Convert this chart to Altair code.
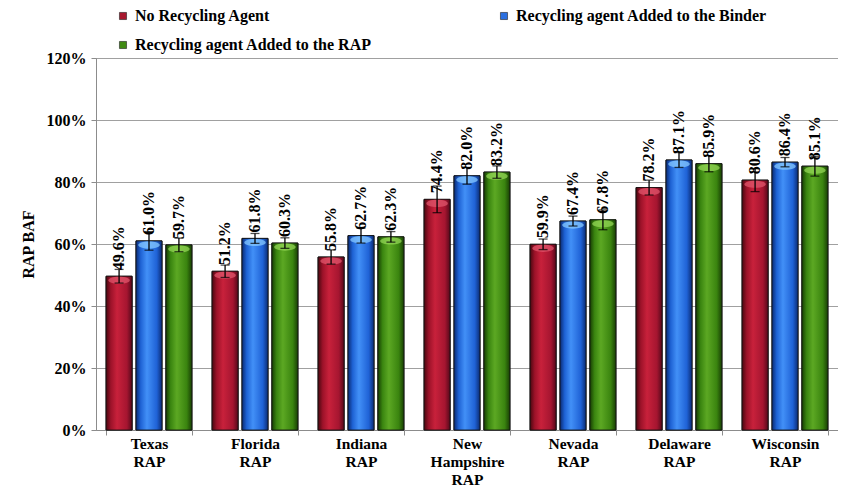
import altair as alt
import pandas as pd

groups = ["Texas RAP", "Florida RAP", "Indiana RAP", "New Hampshire RAP",
          "Nevada RAP", "Delaware RAP", "Wisconsin RAP"]
series = ["No Recycling Agent", "Recycling agent Added to the Binder",
          "Recycling agent Added to the RAP"]

no_agent = [49.6, 51.2, 55.8, 74.4, 59.9, 78.2, 80.6]
binder = [61.0, 61.8, 62.7, 82.0, 67.4, 87.1, 86.4]
rap_added = [59.7, 60.3, 62.3, 83.2, 67.8, 85.9, 85.1]

err_no = [2.2, 2.0, 2.3, 4.3, 1.7, 2.4, 3.7]
err_binder = [3.0, 1.6, 2.4, 2.7, 1.6, 2.4, 1.5]
err_rap = [2.2, 1.7, 1.7, 2.0, 3.2, 2.6, 3.2]

y_ticks = [0, 20, 40, 60, 80, 100, 120]

colors = ["#A8182E", "#2A6FE0", "#3F8A12"]
top_colors = ["#e0566c", "#86c8ff", "#93d655"]
grad_stops = [
    ["#4a0810", "#9c1229", "#c8213b", "#a51530", "#55091a"],
    ["#0a2a72", "#1e62d4", "#4290f7", "#1f62d6", "#0b2c74"],
    ["#173d03", "#3a8510", "#5ca823", "#3a840f", "#193f04"],
]

rows = []
for s, vals, errs in zip(series, [no_agent, binder, rap_added], [err_no, err_binder, err_rap]):
    for g, v, e in zip(groups, vals, errs):
        rows.append({"group": g, "series": s, "value": v, "lo": v - e, "hi": v + e,
                     "label": f"{v:.1f}%"})
df = pd.DataFrame(rows)

FONT = "Liberation Serif"

x_scale = alt.Scale(domain=groups, paddingInner=0.19, paddingOuter=0.095)
x_axis = alt.Axis(title=None, labelExpr="split(datum.label, ' ')", labelAngle=0,
                  tickBand="extent", grid=False, labelFont=FONT, labelFontWeight="bold",
                  labelFontSize=15.5, labelColor="black", labelLineHeight=18,
                  labelPadding=1, tickSize=5, labelBaseline="top")
xo = alt.XOffset("series:N", scale=alt.Scale(domain=series, paddingInner=0.13, paddingOuter=0))
y_scale = alt.Scale(domain=[0, 120], nice=False)
y_axis = alt.Axis(values=y_ticks, labelExpr="datum.value + '%'", title="RAP BAF",
                  labelFont=FONT, labelFontWeight="bold", labelFontSize=16, labelColor="black",
                  titleFont=FONT, titleFontWeight="bold", titleFontSize=16, titleColor="black",
                  titlePadding=10, tickSize=5, labelPadding=5, grid=True)

X = alt.X("group:N", sort=groups, scale=x_scale, axis=x_axis)


def Y(field):
    return alt.Y(f"{field}:Q", scale=y_scale, axis=y_axis)


base = alt.Chart(df)

bars = base.mark_bar(stroke="#111111", strokeWidth=1).encode(
    x=X, xOffset=xo, y=Y("value"),
    color=alt.Color("series:N", scale=alt.Scale(domain=series, range=colors),
                    legend=alt.Legend(orient="none", legendX=19, legendY=-50, columns=2,
                                      direction="horizontal",
                                      title=None, symbolType="square", symbolSize=50,
                                      labelFont=FONT, labelFontWeight="bold", labelFontSize=16,
                                      labelColor="black", labelLimit=400, columnPadding=124,
                                      rowPadding=13, labelOffset=4, symbolStrokeColor="#222222",
                                      symbolStrokeWidth=0.6, padding=0)),
)

ellipse = "M-0.85,0.32 A0.85,0.28 0 1,1 0.85,0.32 A0.85,0.28 0 1,1 -0.85,0.32 Z"

layers = [bars]
tops = []
for s, stops, tc in zip(series, grad_stops, top_colors):
    grad = alt.LinearGradient(
        gradient="linear", x1=0, x2=1, y1=0, y2=0,
        stops=[alt.GradientStop(offset=o, color=c) for o, c in zip([0, 0.18, 0.42, 0.8, 1], stops)],
    )
    layers.append(
        base.transform_filter(alt.datum.series == s)
        .mark_bar(color=grad, stroke="#111111", strokeWidth=0.8)
        .encode(x=X, xOffset=xo, y=Y("value"))
    )
    tops.append(
        base.transform_filter(alt.datum.series == s)
        .mark_point(shape=ellipse, size=640, filled=True, color=tc, opacity=0.75, strokeWidth=0)
        .encode(x=X, xOffset=xo, y=Y("value"))
    )

err_rule = base.mark_rule(color="black", strokeWidth=1.3).encode(
    x=X, xOffset=xo, y=Y("lo"), y2="hi:Q")
cap_hi = base.mark_tick(color="black", thickness=1.3, size=9, orient="horizontal").encode(
    x=X, xOffset=xo, y=Y("hi"))
cap_lo = base.mark_tick(color="black", thickness=1.3, size=9, orient="horizontal").encode(
    x=X, xOffset=xo, y=Y("lo"))

labels = base.mark_text(angle=270, align="left", baseline="middle", dx=6, font=FONT,
                        fontWeight="bold", fontSize=16, color="black").encode(
    x=X, xOffset=xo, y=Y("value"), text="label:N")

chart = alt.layer(*layers, *tops, err_rule, cap_hi, cap_lo, labels).properties(
    width=742, height=372,
    autosize=alt.AutoSizeParams(type="none"),
    padding={"left": 88, "top": 50, "right": 0, "bottom": 59},
).configure_view(stroke="#8c8c8c", strokeWidth=1).configure_axis(
    gridColor="#a0a0a0", domainColor="#8c8c8c", tickColor="#8c8c8c"
)

chart.save("out.html", embed_options={"renderer": "svg", "actions": False})
